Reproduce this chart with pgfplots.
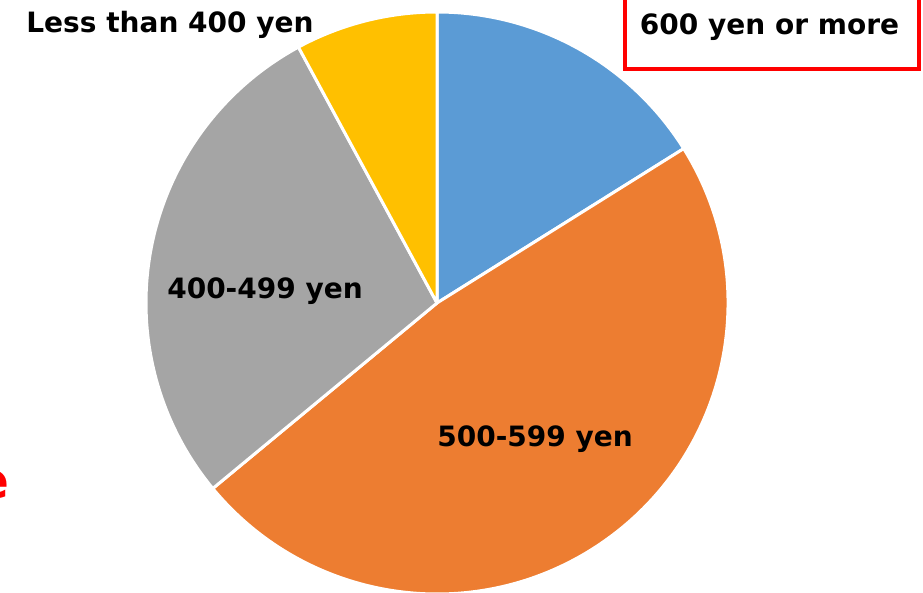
\documentclass[border=0pt]{standalone}
\usepackage{pgfplots}
\pgfplotsset{compat=1.18}
\usepackage{pgfplotstable}
\usepackage{fontspec}
\setmainfont{DejaVu Sans}
\definecolor{cBlue}{HTML}{5B9BD5}
\definecolor{cOrange}{HTML}{ED7D31}
\definecolor{cGray}{HTML}{A5A5A5}
\definecolor{cYellow}{HTML}{FFC000}
\definecolor{cRed}{HTML}{FF0000}
\pgfplotstableread{
label value
600+ 16.1
500-599 47.9
400-499 28.1
lt400 7.9
}\piedata
\pgfplotstablegetelem{0}{value}\of\piedata \let\vA\pgfplotsretval
\pgfplotstablegetelem{1}{value}\of\piedata \let\vB\pgfplotsretval
\pgfplotstablegetelem{2}{value}\of\piedata \let\vC\pgfplotsretval
\pgfplotstablegetelem{3}{value}\of\piedata \let\vD\pgfplotsretval
\pgfmathsetmacro\aA{90}
\pgfmathsetmacro\aB{\aA-3.6*\vA}
\pgfmathsetmacro\aC{\aB-3.6*\vB}
\pgfmathsetmacro\aD{\aC-3.6*\vC}
\pgfmathsetmacro\aE{\aD-3.6*\vD}
\begin{document}
\begin{tikzpicture}
\begin{axis}[at={(0pt,0pt)}, anchor=south west, scale only axis,
  width=923pt, height=592pt, xmin=0, xmax=923, ymin=0, ymax=592,
  hide axis, clip=false]
\def\R{291pt}
\begin{scope}[overlay]
\fill[cBlue, draw=white, line width=3pt, line join=round] (axis cs:437,289) -- ++(\aA:\R) arc[start angle=\aA, end angle=\aB, radius=\R] -- cycle;
\fill[cOrange, draw=white, line width=3pt, line join=round] (axis cs:437,289) -- ++(\aB:\R) arc[start angle=\aB, end angle=\aC, radius=\R] -- cycle;
\fill[cGray, draw=white, line width=3pt, line join=round] (axis cs:437,289) -- ++(\aC:\R) arc[start angle=\aC, end angle=\aD, radius=\R] -- cycle;
\fill[cYellow, draw=white, line width=3pt, line join=round] (axis cs:437,289) -- ++(\aD:\R) arc[start angle=\aD, end angle=\aE, radius=\R] -- cycle;
\draw[cRed, line width=4pt] (axis cs:624.5,522.5) rectangle (axis cs:918.5,630);
\node[font=\fontsize{50}{56}\selectfont\bfseries, text=cRed, anchor=base east, inner sep=0pt] at (axis cs:10,94) {e};
\end{scope}
\node[font=\fontsize{28}{32}\selectfont\bfseries, anchor=base] at (axis cs:170,559) {Less than 400 yen};
\node[font=\fontsize{28}{32}\selectfont\bfseries, anchor=base] at (axis cs:769.5,557) {600 yen or more};
\node[font=\fontsize{28}{32}\selectfont\bfseries, anchor=base] at (axis cs:265,293) {400-499 yen};
\node[font=\fontsize{28}{32}\selectfont\bfseries, anchor=base] at (axis cs:535,145) {500-599 yen};
\end{axis}
\path (0pt,0pt) rectangle (923pt,592pt);
\end{tikzpicture}
\end{document}
